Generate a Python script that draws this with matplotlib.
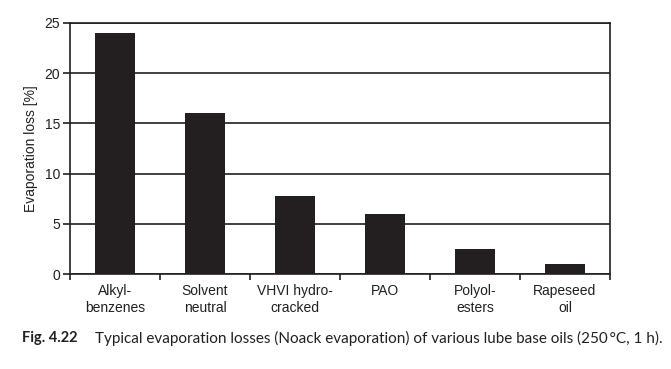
import matplotlib
matplotlib.use('Agg')
import matplotlib.pyplot as plt
import numpy as np

categories = ['Alkyl-\nbenzenes', 'Solvent\nneutral', 'VHVI hydro-\ncracked', 'PAO',
              'Polyol-\nesters', 'Rapeseed\noil']
losses = [24, 16, 7.8, 6, 2.5, 1.0]
yticks = [0, 5, 10, 15, 20, 25]

plt.rcParams['font.family'] = ['Liberation Sans', 'DejaVu Sans']

fig = plt.figure(figsize=(6.71, 3.69), dpi=100)
ax = fig.add_axes([70/671, 1-274/369, 540/671, 251/369])

x = np.arange(len(categories))
ax.bar(x, losses, width=0.45, color='#231f20', zorder=3)

ax.set_xlim(-0.5, len(categories) - 0.5)
ax.set_ylim(0, 25)
ax.set_yticks(yticks)
ax.yaxis.grid(True, color='#231f20', linewidth=1.2, zorder=1)
ax.set_ylabel('Evaporation loss [%]', fontsize=10, color='#231f20', labelpad=5)

ax.set_xticks(x)
ax.set_xticklabels(categories, fontsize=10, color='#231f20', linespacing=1.3)
ax.tick_params(axis='x', which='major', length=0, pad=7)
ax.set_xticks(np.arange(-0.5, len(categories)), minor=True)
ax.tick_params(axis='x', which='minor', length=4, width=1.2, color='#231f20')
ax.tick_params(axis='y', length=5, width=1.2, color='#231f20', labelsize=10,
               labelcolor='#231f20', pad=2)

for s in ax.spines.values():
    s.set_color('#231f20')
    s.set_linewidth(1.2)

cap_font = ['Lato', 'DejaVu Sans']
fig.text(22/671, 1-338/369, 'Fig. 4.22', fontsize=10.5, fontweight='bold',
         family=cap_font, color='#231f20', va='center')
fig.text(95/671, 1-338/369,
         'Typical evaporation losses (Noack evaporation) of various lube base oils (250\u2009°C, 1 h).',
         fontsize=11, family=cap_font, color='#231f20', va='center')

fig.savefig('out.png', dpi=100)
